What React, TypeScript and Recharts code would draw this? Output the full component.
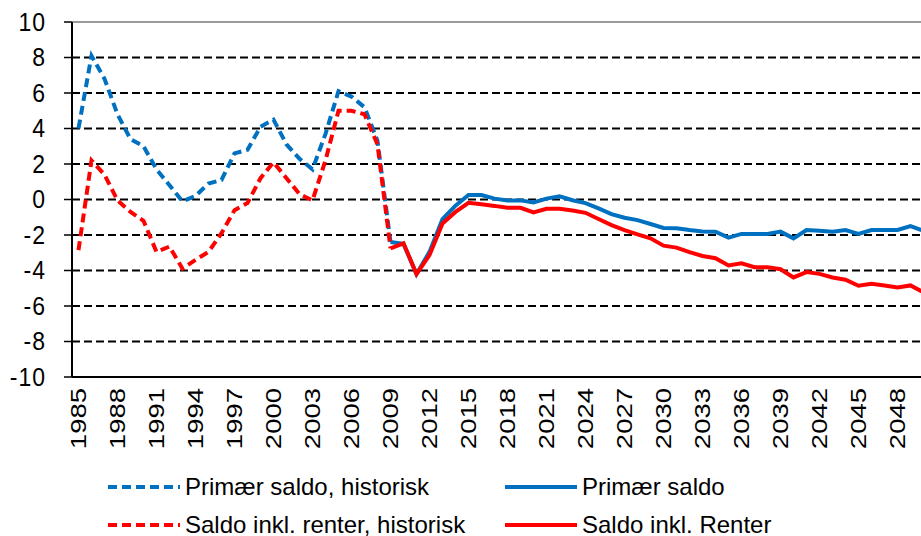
// Primær saldo og saldo inkl. renter, 1985-2050 (pct. af BNP)

import { LineChart, Line, XAxis, YAxis, CartesianGrid, ReferenceLine, Legend } from 'recharts';

const FONT = '"Liberation Sans", Arial, sans-serif';
const BLUE = '#0070C0';
const RED = '#FF0000';

// kategorier
const years = [
  1985, 1986, 1987, 1988, 1989, 1990, 1991, 1992, 1993, 1994, 1995,
  1996, 1997, 1998, 1999, 2000, 2001, 2002, 2003, 2004, 2005, 2006,
  2007, 2008, 2009, 2010, 2011, 2012, 2013, 2014, 2015, 2016, 2017,
  2018, 2019, 2020, 2021, 2022, 2023, 2024, 2025, 2026, 2027, 2028,
  2029, 2030, 2031, 2032, 2033, 2034, 2035, 2036, 2037, 2038, 2039,
  2040, 2041, 2042, 2043, 2044, 2045, 2046, 2047, 2048, 2049, 2050,
];
const labelYears = [
  1985, 1988, 1991, 1994, 1997, 2000, 2003, 2006, 2009, 2012, 2015,
  2018, 2021, 2024, 2027, 2030, 2033, 2036, 2039, 2042, 2045, 2048,
];
const yTicks = [-10, -8, -6, -4, -2, 0, 2, 4, 6, 8, 10];
const gridValues = [-8, -6, -4, -2, 0, 2, 4, 6, 8];

// historik 1985-2009
const primHist = [
  4.0, 8.1, 6.8, 4.8, 3.4, 3.0, 1.7, 0.8, -0.1, 0.2, 0.9, 1.1, 2.6,
  2.8, 4.1, 4.5, 3.1, 2.3, 1.7, 3.7, 6.1, 5.8, 5.2, 3.3, -2.4,
];
const rentHist = [
  -2.85, 2.2, 1.4, -0.05, -0.7, -1.2, -2.95, -2.65, -3.9, -3.4, -2.95, -1.9, -0.6,
  -0.2, 1.2, 2.1, 1.2, 0.3, -0.05, 2.2, 5.0, 5.0, 4.8, 3.1, -2.75,
];

// fremskrivning 2009-2050
const projStart = 2009;
const prim = [
  -2.4, -2.5, -4.2, -2.95, -1.1, -0.35, 0.25, 0.25, 0.05, -0.05, -0.05,
  -0.17, 0.05, 0.18, -0.04, -0.2, -0.5, -0.82, -1.03, -1.16, -1.38, -1.6,
  -1.62, -1.72, -1.8, -1.81, -2.15, -1.94, -1.94, -1.94, -1.81, -2.19, -1.72,
  -1.76, -1.81, -1.72, -1.94, -1.72, -1.72, -1.72, -1.5, -1.76,
];
const rent = [
  -2.75, -2.47, -4.2, -3.13, -1.35, -0.7, -0.19, -0.27, -0.36, -0.47, -0.47,
  -0.73, -0.52, -0.52, -0.62, -0.75, -1.1, -1.44, -1.72, -1.96, -2.19, -2.6,
  -2.71, -2.97, -3.18, -3.31, -3.72, -3.59, -3.81, -3.81, -3.93, -4.39, -4.09,
  -4.19, -4.39, -4.52, -4.86, -4.75, -4.84, -4.95, -4.84, -5.23,
];

const series = [
  { key: 'primHist', name: 'Primær saldo, historisk', color: BLUE, dashed: true },
  { key: 'prim', name: 'Primær saldo', color: BLUE, dashed: false },
  { key: 'rentHist', name: 'Saldo inkl. renter, historisk', color: RED, dashed: true },
  { key: 'rent', name: 'Saldo inkl. Renter', color: RED, dashed: false },
];

const data = years.map((year, i) => {
  const j = year - projStart;
  return {
    year,
    primHist: i < primHist.length ? primHist[i] : null,
    rentHist: i < rentHist.length ? rentHist[i] : null,
    prim: j >= 0 ? prim[j] : null,
    rent: j >= 0 ? rent[j] : null,
  };
});

// tick-streger mellem kategorierne, som i Excel
const boundaries = [...years.map((y) => y - 0.5), years[years.length - 1] + 0.5];
const xDomain = [boundaries[0], boundaries[boundaries.length - 1]];

// teksten i originalen er strakt lodret
// eslint-disable-next-line @typescript-eslint/no-explicit-any
function YearTick({ x, y, payload }: any) {
  return (
    <text
      x={0}
      y={0}
      transform={`translate(${x} ${y}) scale(1 1.25) rotate(-90)`}
      textAnchor="end"
      dominantBaseline="central"
      fontFamily={FONT}
      fontSize={22}
      fill="#000"
    >
      {payload.value}
    </text>
  );
}

// eslint-disable-next-line @typescript-eslint/no-explicit-any
function ValueTick({ x, y, payload }: any) {
  return (
    <text
      x={0}
      y={0}
      transform={`translate(${x} ${y}) scale(1 1.1)`}
      textAnchor="end"
      dominantBaseline="central"
      fontFamily={FONT}
      fontSize={23}
      letterSpacing={1}
      fill="#000"
    >
      {payload.value}
    </text>
  );
}

function LegendBox() {
  return (
    <div style={{ position: 'relative', width: 934, height: 80, fontFamily: FONT }}>
      {series.map((s, i) => {
        const col = i % 2;
        const row = Math.floor(i / 2);
        return (
          <div
            key={s.key}
            style={{
              position: 'absolute',
              left: col === 0 ? 108 : 505,
              top: row === 0 ? 19 : 57,
              height: 24,
              display: 'flex',
              alignItems: 'center',
              whiteSpace: 'nowrap',
            }}
          >
            <svg width={72} height={8} style={{ marginRight: 5 }}>
              <line
                x1={0} y1={4} x2={72} y2={4}
                stroke={s.color}
                strokeWidth={4}
                strokeDasharray={s.dashed ? '9 5' : undefined}
              />
            </svg>
            <span style={{ fontSize: 24, color: '#000', lineHeight: '24px' }}>{s.name}</span>
          </div>
        );
      })}
    </div>
  );
}

export default function App() {
  return (
    <div style={{ position: 'absolute', left: 0, top: 0, width: 921, height: 536, overflow: 'hidden', background: '#fff' }}>
      <LineChart width={934} height={536} data={data} margin={{ top: 22, right: 4, left: 0, bottom: 0 }}>
        <CartesianGrid
          vertical={false}
          horizontalValues={gridValues}
          stroke="#000"
          strokeWidth={2}
          strokeDasharray="8 4"
        />
        <ReferenceLine y={10} stroke="#9a9a9a" strokeWidth={2} />
        <XAxis
          type="number"
          dataKey="year"
          domain={xDomain}
          ticks={boundaries}
          interval={0}
          tick={false}
          tickLine={{ stroke: '#000', strokeWidth: 1.5 }}
          tickSize={7}
          axisLine={{ stroke: '#000', strokeWidth: 2 }}
          height={8}
        />
        <XAxis
          xAxisId="labels"
          type="number"
          dataKey="year"
          domain={xDomain}
          ticks={labelYears}
          interval={0}
          tick={<YearTick />}
          tickLine={false}
          axisLine={false}
          tickSize={0}
          tickMargin={3}
          height={71}
        />
        <YAxis
          domain={[-10, 10]}
          ticks={yTicks}
          interval={0}
          width={72}
          tick={<ValueTick />}
          tickLine={{ stroke: '#000', strokeWidth: 1.5 }}
          tickSize={8}
          tickMargin={18}
          axisLine={{ stroke: '#000', strokeWidth: 2 }}
        />
        <Legend verticalAlign="bottom" content={<LegendBox />} wrapperStyle={{ left: 0, width: 934, height: 80 }} />
        {series.map((s) => (
          <Line
            key={s.key}
            dataKey={s.key}
            name={s.name}
            stroke={s.color}
            strokeWidth={4}
            strokeDasharray={s.dashed ? '9 5' : undefined}
            dot={false}
            activeDot={false}
            connectNulls={false}
            isAnimationActive={false}
          />
        ))}
      </LineChart>
    </div>
  );
}
